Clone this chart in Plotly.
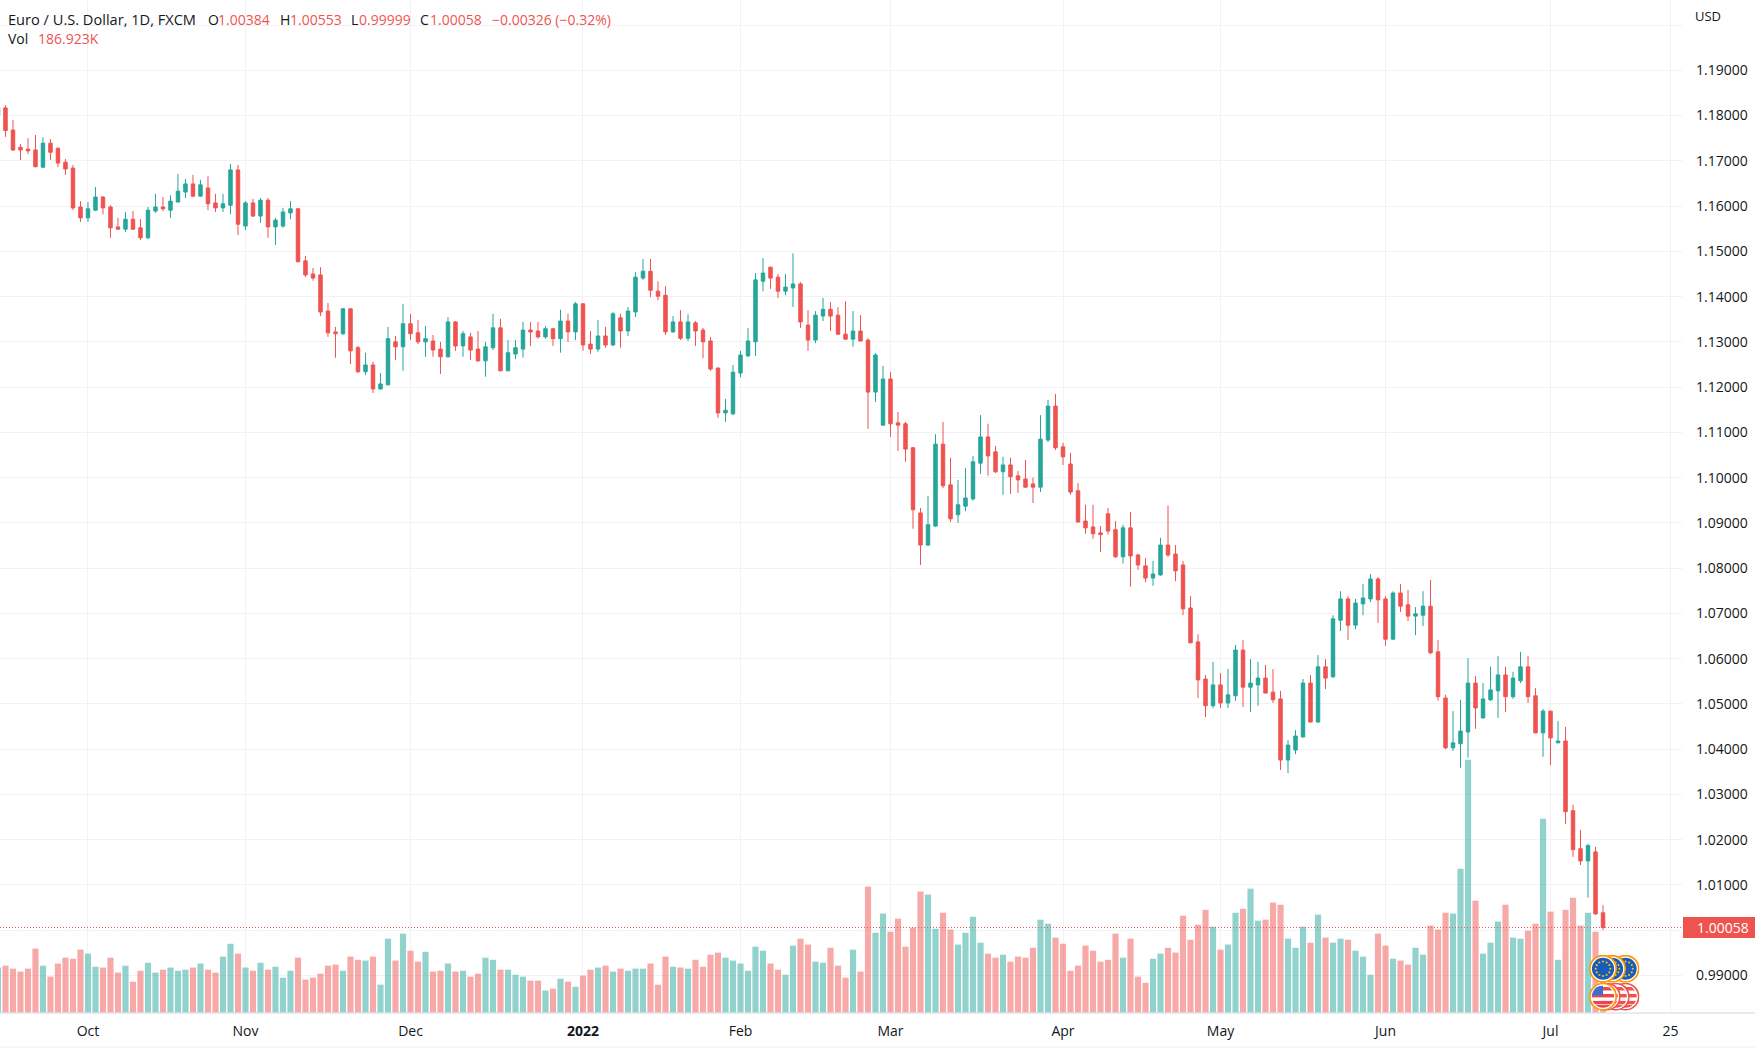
"""
EUR/USD daily chart with volume, drawn in the trading-terminal look
"""

from urllib.parse import quote

import numpy as np
import pandas as pd
import plotly.graph_objects as go

###########################
# plot options
###########################
WIDTH, HEIGHT = 1755, 1048
PLOT_W, PLOT_H = 1682, 1013
FONT = "Open Sans"
TEXT_COLOR = "#131722"
GRID_COLOR = "#f1f2f5"
LINE_COLOR = "#e0e3eb"
color_value = {
    'up': '#26a69a',
    'down': '#ef5350',
    'up_vol': 'rgba(38,166,154,0.5)',
    'down_vol': 'rgba(239,83,80,0.5)',
}

###########################
# daily bars: open, high, low, close
###########################
CANDLES = [
    (1.1801, 1.1825, 1.1795, 1.1817), (1.1817, 1.1823, 1.1753, 1.1767), (1.1768, 1.1790, 1.1722, 1.1724), (1.1730, 1.1737, 1.1702, 1.1724),
    (1.1726, 1.1750, 1.1715, 1.1722), (1.1724, 1.1757, 1.1686, 1.1687), (1.1686, 1.1752, 1.1684, 1.1739), (1.1739, 1.1748, 1.1702, 1.1719),
    (1.1728, 1.1729, 1.1686, 1.1695), (1.1697, 1.1704, 1.1669, 1.1682), (1.1684, 1.1691, 1.1591, 1.1596), (1.1598, 1.1611, 1.1565, 1.1574),
    (1.1574, 1.1609, 1.1565, 1.1594), (1.1591, 1.1642, 1.1589, 1.1620), (1.1620, 1.1622, 1.1582, 1.1596), (1.1598, 1.1602, 1.1530, 1.1552),
    (1.1554, 1.1574, 1.1548, 1.1549), (1.1549, 1.1587, 1.1543, 1.1571), (1.1571, 1.1589, 1.1548, 1.1549), (1.1552, 1.1571, 1.1525, 1.1530),
    (1.1530, 1.1598, 1.1527, 1.1591), (1.1589, 1.1627, 1.1585, 1.1598), (1.1598, 1.1620, 1.1589, 1.1594), (1.1591, 1.1624, 1.1574, 1.1611),
    (1.1609, 1.1671, 1.1608, 1.1633), (1.1631, 1.1660, 1.1618, 1.1649), (1.1649, 1.1669, 1.1620, 1.1622), (1.1622, 1.1658, 1.1621, 1.1647),
    (1.1640, 1.1666, 1.1591, 1.1605), (1.1607, 1.1627, 1.1587, 1.1596), (1.1596, 1.1627, 1.1587, 1.1605), (1.1602, 1.1693, 1.1582, 1.1680),
    (1.1680, 1.1691, 1.1536, 1.1560), (1.1556, 1.1611, 1.1547, 1.1607), (1.1607, 1.1616, 1.1576, 1.1578), (1.1578, 1.1618, 1.1563, 1.1613),
    (1.1613, 1.1618, 1.1530, 1.1554), (1.1554, 1.1574, 1.1514, 1.1569), (1.1556, 1.1596, 1.1552, 1.1587), (1.1585, 1.1611, 1.1571, 1.1594),
    (1.1594, 1.1596, 1.1476, 1.1477), (1.1479, 1.1490, 1.1443, 1.1448), (1.1450, 1.1463, 1.1435, 1.1441), (1.1448, 1.1465, 1.1357, 1.1366),
    (1.1368, 1.1386, 1.1311, 1.1320), (1.1322, 1.1333, 1.1265, 1.1318), (1.1318, 1.1375, 1.1315, 1.1373), (1.1373, 1.1374, 1.1251, 1.1280),
    (1.1287, 1.1291, 1.1231, 1.1234), (1.1234, 1.1276, 1.1227, 1.1249), (1.1249, 1.1256, 1.1187, 1.1196), (1.1196, 1.1231, 1.1194, 1.1207),
    (1.1205, 1.1333, 1.1204, 1.1307), (1.1300, 1.1313, 1.1260, 1.1289), (1.1289, 1.1384, 1.1236, 1.1340), (1.1340, 1.1362, 1.1304, 1.1318),
    (1.1320, 1.1348, 1.1295, 1.1300), (1.1300, 1.1335, 1.1267, 1.1307), (1.1302, 1.1315, 1.1267, 1.1282), (1.1284, 1.1300, 1.1229, 1.1267),
    (1.1267, 1.1355, 1.1265, 1.1344), (1.1344, 1.1346, 1.1280, 1.1291), (1.1291, 1.1324, 1.1267, 1.1318), (1.1311, 1.1320, 1.1260, 1.1282),
    (1.1284, 1.1324, 1.1256, 1.1258), (1.1258, 1.1300, 1.1223, 1.1289), (1.1287, 1.1362, 1.1282, 1.1331), (1.1331, 1.1351, 1.1235, 1.1236),
    (1.1236, 1.1304, 1.1235, 1.1276), (1.1273, 1.1304, 1.1262, 1.1287), (1.1284, 1.1344, 1.1265, 1.1326), (1.1326, 1.1344, 1.1291, 1.1322),
    (1.1324, 1.1344, 1.1307, 1.1311), (1.1311, 1.1335, 1.1307, 1.1329), (1.1329, 1.1331, 1.1291, 1.1307), (1.1307, 1.1371, 1.1276, 1.1346),
    (1.1346, 1.1362, 1.1300, 1.1322), (1.1322, 1.1388, 1.1304, 1.1384), (1.1384, 1.1385, 1.1280, 1.1293), (1.1295, 1.1324, 1.1273, 1.1284),
    (1.1284, 1.1348, 1.1278, 1.1313), (1.1313, 1.1333, 1.1287, 1.1293), (1.1293, 1.1366, 1.1291, 1.1362), (1.1353, 1.1362, 1.1287, 1.1324),
    (1.1324, 1.1377, 1.1313, 1.1368), (1.1366, 1.1454, 1.1355, 1.1443), (1.1441, 1.1483, 1.1437, 1.1456), (1.1456, 1.1483, 1.1399, 1.1414),
    (1.1412, 1.1434, 1.1392, 1.1401), (1.1403, 1.1423, 1.1315, 1.1322), (1.1322, 1.1357, 1.1320, 1.1344), (1.1344, 1.1370, 1.1304, 1.1308),
    (1.1308, 1.1361, 1.1302, 1.1344), (1.1342, 1.1346, 1.1291, 1.1324), (1.1326, 1.1331, 1.1264, 1.1300), (1.1302, 1.1311, 1.1236, 1.1240),
    (1.1242, 1.1244, 1.1132, 1.1143), (1.1143, 1.1174, 1.1123, 1.1149), (1.1141, 1.1249, 1.1138, 1.1233), (1.1231, 1.1280, 1.1222, 1.1271),
    (1.1269, 1.1331, 1.1267, 1.1302), (1.1300, 1.1452, 1.1269, 1.1437), (1.1434, 1.1485, 1.1412, 1.1452), (1.1465, 1.1466, 1.1417, 1.1441),
    (1.1443, 1.1450, 1.1397, 1.1412), (1.1412, 1.1450, 1.1403, 1.1421), (1.1419, 1.1496, 1.1377, 1.1428), (1.1428, 1.1432, 1.1331, 1.1344),
    (1.1337, 1.1370, 1.1280, 1.1304), (1.1304, 1.1368, 1.1297, 1.1359), (1.1357, 1.1397, 1.1346, 1.1372), (1.1372, 1.1388, 1.1324, 1.1357),
    (1.1359, 1.1377, 1.1315, 1.1317), (1.1317, 1.1390, 1.1305, 1.1306), (1.1306, 1.1368, 1.1289, 1.1324), (1.1324, 1.1359, 1.1301, 1.1302),
    (1.1304, 1.1308, 1.1108, 1.1189), (1.1189, 1.1275, 1.1167, 1.1271), (1.1116, 1.1247, 1.1115, 1.1218), (1.1218, 1.1233, 1.1090, 1.1119),
    (1.1121, 1.1145, 1.1059, 1.1116), (1.1119, 1.1123, 1.1035, 1.1063), (1.1066, 1.1068, 1.0887, 1.0929), (1.0922, 1.0933, 1.0807, 1.0851),
    (1.0851, 1.0960, 1.0849, 1.0896), (1.0893, 1.1096, 1.0891, 1.1074), (1.1074, 1.1123, 1.0977, 1.0982), (1.0984, 1.1044, 1.0902, 1.0909),
    (1.0918, 1.0995, 1.0900, 1.0940), (1.0937, 1.1021, 1.0926, 1.0955), (1.0953, 1.1048, 1.0949, 1.1035), (1.1032, 1.1138, 1.1008, 1.1090),
    (1.1090, 1.1119, 1.1004, 1.1048), (1.1057, 1.1070, 1.1010, 1.1013), (1.1013, 1.1046, 1.0962, 1.1028), (1.1028, 1.1044, 1.0964, 1.1002),
    (1.1004, 1.1015, 1.0966, 1.0995), (1.0997, 1.1039, 1.0978, 1.0979), (1.0986, 1.1000, 1.0944, 1.0979), (1.0979, 1.1138, 1.0968, 1.1085),
    (1.1083, 1.1172, 1.1079, 1.1158), (1.1158, 1.1185, 1.1061, 1.1066), (1.1068, 1.1077, 1.1028, 1.1046), (1.1030, 1.1055, 1.0962, 1.0968),
    (1.0971, 1.0988, 1.0900, 1.0902), (1.0904, 1.0940, 1.0876, 1.0889), (1.0891, 1.0940, 1.0865, 1.0876), (1.0878, 1.0893, 1.0836, 1.0874),
    (1.0920, 1.0933, 1.0874, 1.0882), (1.0885, 1.0904, 1.0823, 1.0825), (1.0825, 1.0896, 1.0810, 1.0889), (1.0889, 1.0924, 1.0759, 1.0827),
    (1.0829, 1.0832, 1.0796, 1.0807), (1.0805, 1.0822, 1.0769, 1.0778), (1.0778, 1.0816, 1.0761, 1.0787), (1.0785, 1.0867, 1.0783, 1.0851),
    (1.0851, 1.0938, 1.0825, 1.0829), (1.0831, 1.0851, 1.0771, 1.0794), (1.0807, 1.0816, 1.0696, 1.0710), (1.0712, 1.0738, 1.0634, 1.0635),
    (1.0637, 1.0654, 1.0513, 1.0553), (1.0555, 1.0564, 1.0471, 1.0496), (1.0496, 1.0593, 1.0491, 1.0542), (1.0542, 1.0568, 1.0491, 1.0502),
    (1.0502, 1.0577, 1.0491, 1.0520), (1.0518, 1.0630, 1.0507, 1.0619), (1.0619, 1.0641, 1.0493, 1.0537), (1.0537, 1.0599, 1.0482, 1.0546),
    (1.0542, 1.0593, 1.0496, 1.0557), (1.0557, 1.0586, 1.0523, 1.0524), (1.0526, 1.0577, 1.0502, 1.0509), (1.0511, 1.0529, 1.0354, 1.0376),
    (1.0376, 1.0420, 1.0347, 1.0409), (1.0398, 1.0442, 1.0389, 1.0429), (1.0427, 1.0555, 1.0426, 1.0546), (1.0546, 1.0564, 1.0459, 1.0460),
    (1.0460, 1.0608, 1.0459, 1.0582), (1.0582, 1.0599, 1.0533, 1.0557), (1.0560, 1.0696, 1.0557, 1.0688), (1.0685, 1.0749, 1.0661, 1.0732),
    (1.0732, 1.0738, 1.0641, 1.0674), (1.0674, 1.0732, 1.0665, 1.0723), (1.0721, 1.0765, 1.0696, 1.0734), (1.0732, 1.0787, 1.0725, 1.0776),
    (1.0776, 1.0780, 1.0679, 1.0730), (1.0732, 1.0738, 1.0628, 1.0643), (1.0643, 1.0749, 1.0642, 1.0745), (1.0745, 1.0765, 1.0703, 1.0716),
    (1.0719, 1.0752, 1.0683, 1.0694), (1.0694, 1.0714, 1.0652, 1.0699), (1.0696, 1.0749, 1.0672, 1.0716), (1.0716, 1.0774, 1.0610, 1.0613),
    (1.0615, 1.0641, 1.0507, 1.0516), (1.0513, 1.0520, 1.0400, 1.0403), (1.0403, 1.0484, 1.0396, 1.0414), (1.0412, 1.0509, 1.0359, 1.0440),
    (1.0438, 1.0601, 1.0381, 1.0546), (1.0546, 1.0562, 1.0445, 1.0491), (1.0469, 1.0546, 1.0468, 1.0511), (1.0509, 1.0582, 1.0507, 1.0531),
    (1.0529, 1.0606, 1.0469, 1.0564), (1.0564, 1.0582, 1.0482, 1.0516), (1.0516, 1.0571, 1.0511, 1.0557), (1.0551, 1.0615, 1.0546, 1.0582),
    (1.0582, 1.0606, 1.0502, 1.0516), (1.0518, 1.0535, 1.0435, 1.0436), (1.0436, 1.0489, 1.0383, 1.0484), (1.0484, 1.0485, 1.0365, 1.0425),
    (1.0414, 1.0462, 1.0413, 1.0418), (1.0418, 1.0449, 1.0235, 1.0262), (1.0264, 1.0277, 1.0162, 1.0178), (1.0180, 1.0222, 1.0144, 1.0153),
    (1.0153, 1.0191, 1.0072, 1.0187), (1.0173, 1.0184, 1.0034, 1.0036), (1.00384, 1.00553, 0.99999, 1.00058),
]

# volume in thousands, same order as CANDLES
VOLUME = [
    170, 177, 166, 155, 166, 241, 177, 136, 185, 207, 203, 237, 222, 173, 170, 207, 151, 177, 117, 158,
    188, 151, 162, 170, 158, 162, 170, 185, 162, 151, 211, 259, 222, 170, 158, 188, 162, 173, 132, 158,
    207, 125, 132, 147, 177, 181, 158, 211, 199, 196, 211, 106, 278, 196, 297, 233, 192, 229, 155, 158,
    185, 155, 158, 136, 147, 207, 199, 162, 162, 143, 136, 121, 121, 84, 91, 128, 117, 98, 140, 162,
    170, 177, 155, 166, 158, 166, 166, 185, 106, 211, 173, 170, 166, 199, 173, 218, 226, 207, 196, 185,
    158, 248, 233, 185, 162, 143, 252, 278, 256, 192, 188, 244, 177, 132, 237, 155, 473, 300, 372, 304,
    353, 248, 319, 454, 443, 315, 375, 312, 256, 300, 360, 263, 222, 207, 218, 192, 211, 207, 244, 349,
    334, 282, 259, 158, 177, 252, 233, 192, 199, 297, 207, 278, 136, 113, 203, 222, 244, 226, 364, 274,
    330, 386, 323, 237, 256, 375, 390, 465, 345, 349, 413, 405, 278, 244, 323, 263, 368, 282, 263, 278,
    274, 233, 211, 143, 297, 252, 203, 196, 181, 244, 218, 327, 312, 375, 372, 540, 947, 420, 222, 263,
    342, 405, 282, 278, 308, 334, 727, 379, 199, 386, 431, 327, 375, 304, 186.923,
]

# scale of both panes, taken from the grid lines of the picture
PRICE_RANGE = (0.9817, 1.20554)
VOLUME_TOP = 3789
X_RANGE = (0.27, 224.53)

# month marks of the time axis
TIME_TICKS = {
    '2021-10-01': 'Oct', '2021-11-01': 'Nov', '2021-12-01': 'Dec', '2022-01-03': '<b>2022</b>',
    '2022-02-01': 'Feb', '2022-03-01': 'Mar', '2022-04-01': 'Apr', '2022-05-02': 'May',
    '2022-06-01': 'Jun', '2022-07-01': 'Jul', '2022-07-25': '25',
}

# legend in the top left corner: x, y, text, color, font size
HEADER = [
    (8, 19, 'Euro / U.S. Dollar, 1D, FXCM', TEXT_COLOR, 14.6),
    (208, 19, 'O', TEXT_COLOR, 14), (218, 19, '1.00384', color_value['down'], 14),
    (280, 19, 'H', TEXT_COLOR, 14), (290, 19, '1.00553', color_value['down'], 14),
    (351, 19, 'L', TEXT_COLOR, 14), (359, 19, '0.99999', color_value['down'], 14),
    (420, 19, 'C', TEXT_COLOR, 14), (430, 19, '1.00058', color_value['down'], 14),
    (492, 19, '\u22120.00326 (\u22120.32%)', color_value['down'], 14),
    (8, 39, 'Vol', TEXT_COLOR, 14), (38, 39, '186.923K', color_value['down'], 14),
]


def flag_icon(kind, ring):
    """

    svg data uri of a round event flag

    Args:
        kind: 'eu' or 'us'
        ring: color of the outer ring

    Returns:
    """
    if kind == 'eu':
        stars = ''.join(
            f'<circle cx="{20 + 10.5 * np.cos(a):.1f}" cy="{20 + 10.5 * np.sin(a):.1f}" r="1.5" fill="#f5c518"/>'
            for a in np.arange(12) * np.pi / 6
        )
        inner = f'<circle cx="20" cy="20" r="16" fill="#1a5cb8"/>{stars}'
    else:
        red = '#ef5350' if ring != '#ff9800' else '#e8484c'
        stripes = ''.join(f'<rect x="0" y="{y}" width="40" height="5" fill="{red}"/>' for y in (6, 16, 26, 32))
        inner = (f'<clipPath id="c"><circle cx="20" cy="20" r="16"/></clipPath>'
                 f'<g clip-path="url(#c)"><rect width="40" height="40" fill="#fff"/>{stripes}'
                 f'<rect x="4" y="4" width="16" height="14" fill="#3d6fd1"/></g>')
    svg = (f'<svg xmlns="http://www.w3.org/2000/svg" width="40" height="40" viewBox="0 0 40 40">'
           f'<circle cx="20" cy="20" r="19" fill="#fff" stroke="{ring}" stroke-width="2.4"/>{inner}</svg>')
    return 'data:image/svg+xml,' + quote(svg)


def plot_chart(candles, volume):
    df = pd.DataFrame(candles, columns=['open', 'high', 'low', 'close'])
    df['volume'] = volume
    df['date'] = pd.bdate_range('2021-09-15', periods=len(df))
    df['x'] = np.arange(len(df))
    bar_colors = [color_value['up_vol'] if c >= o else color_value['down_vol'] for o, c in zip(df['open'], df['close'])]

    fig = go.Figure()
    # volume sits on the base axis, so the candles are painted over it
    fig.add_bar(x=df['x'], y=df['volume'], marker={"color": bar_colors, "line": {"width": 0}}, width=0.82, yaxis='y')
    fig.add_candlestick(
        x=df['x'], open=df['open'], high=df['high'], low=df['low'], close=df['close'],
        increasing={"line": {"color": color_value['up'], "width": 1}, "fillcolor": color_value['up']},
        decreasing={"line": {"color": color_value['down'], "width": 1}, "fillcolor": color_value['down']},
        whiskerwidth=0, yaxis='y2',
    )

    tick_x = [df.index[df['date'] == d][0] if (df['date'] == d).any()
              else df['x'].iloc[-1] + np.busday_count(df['date'].iloc[-1].date(), d) for d in TIME_TICKS]
    price_ticks = np.arange(0.99, 1.2001, 0.01).round(2)
    price_text = ['' if p in (1.0, 1.2) else f"{p:.5f}" for p in price_ticks]

    fig.update_xaxes(
        range=X_RANGE, tickvals=tick_x, ticktext=list(TIME_TICKS.values()), ticks='', showgrid=True,
        gridcolor=GRID_COLOR, gridwidth=1, zeroline=False, showline=False, ticklabelstandoff=8,
        tickfont={"family": FONT, "size": 14, "color": TEXT_COLOR}, rangeslider={"visible": False},
    )
    fig.update_layout(
        width=WIDTH, height=HEIGHT, margin={"l": 0, "r": WIDTH - PLOT_W, "t": 0, "b": HEIGHT - PLOT_H, "pad": 0},
        paper_bgcolor='white', plot_bgcolor='white', showlegend=False, barmode='overlay', boxgap=0.34,
        yaxis={"range": (0, VOLUME_TOP), "visible": False, "showgrid": False, "fixedrange": True},
        yaxis2={
            "overlaying": 'y', "side": 'right', "range": PRICE_RANGE, "tickvals": price_ticks, "ticktext": price_text,
            "showgrid": True, "gridcolor": GRID_COLOR, "gridwidth": 1, "zeroline": False, "ticks": '',
            "ticklabelstandoff": 13, "tickfont": {"family": FONT, "size": 14, "color": TEXT_COLOR},
        },
    )

    # frame lines and the last price
    last = df['close'].iloc[-1]
    paper_right = WIDTH / PLOT_W
    fig.add_shape(type='line', xref='paper', yref='paper', x0=0, x1=paper_right, y0=0, y1=0,
                  line={"color": LINE_COLOR, "width": 1.5})
    bottom = -(HEIGHT - PLOT_H - 1) / PLOT_H
    fig.add_shape(type='line', xref='paper', yref='paper', x0=0, x1=paper_right, y0=bottom, y1=bottom,
                  line={"color": '#eceef2', "width": 1})
    fig.add_shape(type='line', xref='paper', yref='y2', x0=0, x1=1, y0=last, y1=last,
                  line={"color": color_value['down'], "width": 1, "dash": '1px,2px'})
    fig.add_shape(type='rect', xref='paper', yref='y2', x0=(PLOT_W + 1) / PLOT_W, x1=paper_right,
                  y0=last - 0.00232, y1=last + 0.00232, fillcolor=color_value['down'], line={"width": 0})
    fig.add_annotation(
        xref='paper', yref='y2', x=(PLOT_W + 14) / PLOT_W, y=last, xanchor='left', yanchor='middle', showarrow=False,
        text='1.00058', font={"family": FONT, "size": 14, "color": 'white'}, borderpad=0,
    )
    fig.add_annotation(
        xref='paper', yref='paper', x=(PLOT_W + 11) / PLOT_W, y=1 - 16 / PLOT_H, xanchor='left', yanchor='middle',
        showarrow=False, text='USD', font={"family": FONT, "size": 13, "color": TEXT_COLOR},
    )

    for x, y, text, color, size in HEADER:
        fig.add_annotation(
            xref='paper', yref='paper', x=x / PLOT_W, y=1 - y / PLOT_H, xanchor='left', yanchor='middle',
            showarrow=False, text=text, font={"family": FONT, "size": size, "color": color}, borderpad=0, borderwidth=0,
        )

    # event flags under the last bars, the front one last
    for kind, flag_y, marks in (('eu', 0.99148, (217.0, 215.2, 214.0)), ('us', 0.9853, (217.0, 215.7, 214.5, 214.0))):
        for flag_x in marks:
            ring = '#ff9800' if kind == 'eu' or flag_x == 214.0 else '#ef5350'
            fig.add_layout_image(
                source=flag_icon(kind, ring), xref='x', yref='y2', x=flag_x, y=flag_y, sizex=3.7, sizey=0.0062,
                xanchor='center', yanchor='middle', layer='above', sizing='contain',
            )

    fig.write_html("out.html", config={"displayModeBar": False}, post_script="document.body.style.margin='0';")


plot_chart(CANDLES, VOLUME)
